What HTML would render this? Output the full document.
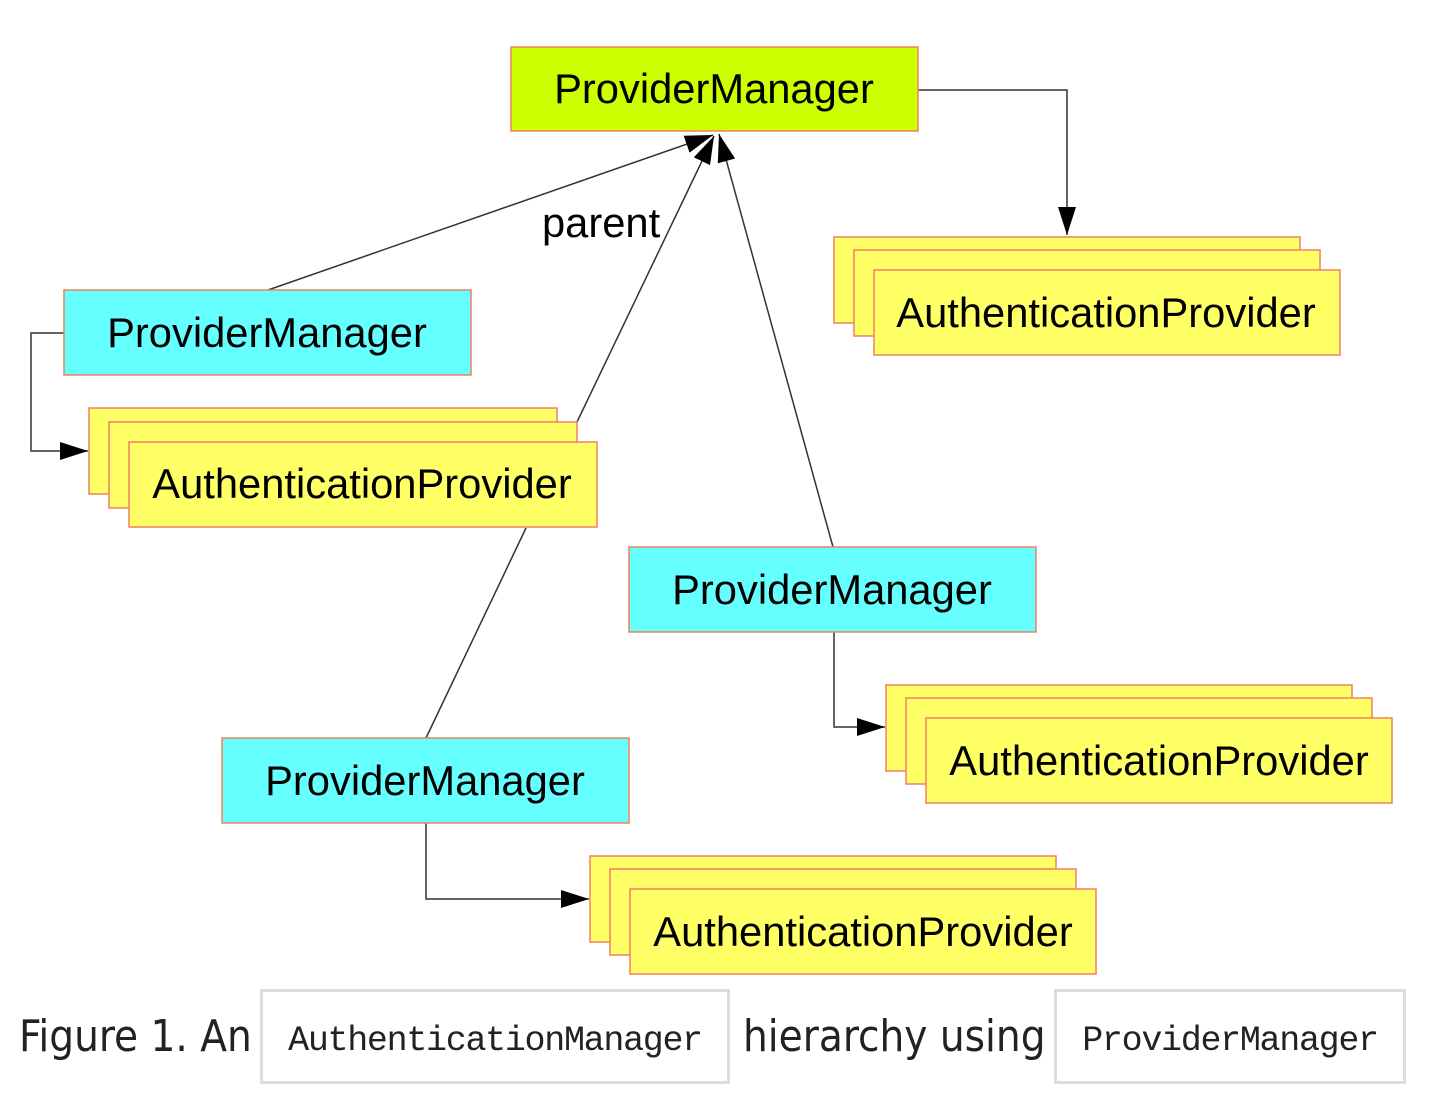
<!DOCTYPE html>
<html><head><meta charset="utf-8"><style>
html,body{margin:0;padding:0;background:#fff;width:1451px;height:1100px;overflow:hidden;position:relative}
svg{position:absolute;left:0;top:0}
.t{font-family:"Liberation Sans",sans-serif;font-size:41.7px;fill:#000}
.cap{position:absolute;font-family:"DejaVu Sans Condensed","Liberation Sans",sans-serif;font-size:43.5px;color:#222;top:1010px;white-space:nowrap}
.code{position:absolute;top:989px;border:3px solid #dcdde2;box-sizing:border-box;height:95px;font-family:"Liberation Mono","DejaVu Sans Mono",monospace;font-size:35px;color:#222;line-height:98px;text-align:center;letter-spacing:-1.3px}
</style></head><body>
<svg width="1451" height="1000" viewBox="0 0 1451 1000">
<defs><marker id="a" markerWidth="28" markerHeight="18" refX="28" refY="9" orient="auto" markerUnits="userSpaceOnUse"><path d="M0,0 L28,9 L0,18 z" fill="#000"/></marker></defs>
<g stroke="#333" stroke-width="1.5" fill="none">
<polyline points="918,90 1067,90 1067,235" marker-end="url(#a)"/>
<polyline points="64,333 31,333 31,451 88,451" marker-end="url(#a)"/>
<polyline points="834,632 834,727 885,727" marker-end="url(#a)"/>
<polyline points="426,823 426,899 589,899" marker-end="url(#a)"/>
<line x1="268" y1="290" x2="713" y2="135" marker-end="url(#a)"/>
<line x1="577" y1="422" x2="714" y2="136" marker-end="url(#a)"/>
<line x1="426" y1="738" x2="526" y2="528"/>
<line x1="833" y1="547" x2="719" y2="134" marker-end="url(#a)"/>
</g>
<g stroke="#f08060" stroke-width="1.5">
<rect x="511" y="47" width="407" height="84" fill="#ccff00"/>
<rect x="64" y="290" width="407" height="85" fill="#66ffff"/>
<rect x="629" y="547" width="407" height="85" fill="#66ffff"/>
<rect x="222" y="738" width="407" height="85" fill="#66ffff"/>
<g fill="#ffff66">
<rect x="834" y="237" width="466" height="86"/><rect x="854" y="250" width="466" height="86"/><rect x="874" y="270" width="466" height="85"/>
<rect x="89" y="408" width="468" height="86"/><rect x="109" y="422" width="468" height="86"/><rect x="129" y="442" width="468" height="85"/>
<rect x="886" y="685" width="466" height="86"/><rect x="906" y="698" width="466" height="86"/><rect x="926" y="718" width="466" height="85"/>
<rect x="590" y="856" width="466" height="86"/><rect x="610" y="869" width="466" height="86"/><rect x="630" y="889" width="466" height="85"/>
</g></g>
<g class="t" text-anchor="middle">
<text x="714" y="103">ProviderManager</text>
<text x="267" y="347">ProviderManager</text>
<text x="832" y="604">ProviderManager</text>
<text x="425" y="795">ProviderManager</text>
<text x="1106" y="327">AuthenticationProvider</text>
<text x="362" y="498">AuthenticationProvider</text>
<text x="1159" y="775">AuthenticationProvider</text>
<text x="863" y="946">AuthenticationProvider</text>
</g>
<text class="t" x="542" y="237">parent</text>
</svg>
<div class="cap" style="left:19px;top:1012px">Figure 1. An</div>
<div class="code" style="left:260px;width:470px">AuthenticationManager</div>
<div class="cap" style="left:743px;top:1012px">hierarchy using</div>
<div class="code" style="left:1054px;width:352px">ProviderManager</div>
</body></html>
